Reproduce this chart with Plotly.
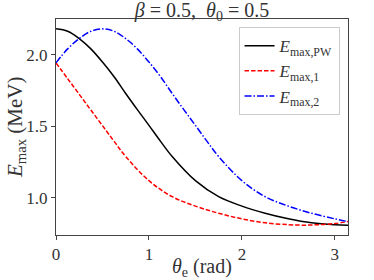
import math
import plotly.graph_objects as go

# ---- data ----
theta_pw = [0.0, 0.125, 0.25, 0.375, 0.5, 0.625, 0.75, 0.875, 1.0, 1.125, 1.25,
            1.5, 1.75, 2.0, 2.25, 2.5, 2.75, 3.0, math.pi]
e_pw = [2.180, 2.163, 2.112, 2.040, 1.948, 1.845, 1.728, 1.615, 1.505, 1.393, 1.287,
        1.118, 1.006, 0.940, 0.890, 0.851, 0.823, 0.810, 0.807]

theta_1 = [0.0, 0.125, 0.25, 0.375, 0.5, 0.625, 0.75, 1.0, 1.25, 1.5, 1.75,
           2.0, 2.25, 2.5, 2.64, 2.75, 3.0, math.pi]
e_1 = [1.942, 1.832, 1.722, 1.612, 1.503, 1.393, 1.287, 1.118, 1.006, 0.940, 0.890,
       0.851, 0.823, 0.810, 0.807, 0.808, 0.818, 0.832]

theta_2 = [0.0, 0.125, 0.25, 0.375, 0.5, 0.625, 0.75, 0.875, 1.0, 1.125, 1.25,
           1.375, 1.5, 1.625, 1.75, 2.0, 2.25, 2.5, 2.75, 3.0, math.pi]
e_2 = [1.942, 2.040, 2.112, 2.163, 2.180, 2.163, 2.112, 2.040, 1.948, 1.845, 1.728,
       1.615, 1.505, 1.393, 1.287, 1.118, 1.006, 0.940, 0.890, 0.851, 0.832]

x_ticks = [0, 1, 2, 3]
y_ticks = [1.0, 1.5, 2.0]
y_tick_text = ["1.0", "1.5", "2.0"]

names = ["<i>E</i><sub>max,PW</sub>", "<i>E</i><sub>max,1</sub>", "<i>E</i><sub>max,2</sub>"]
title_text = "<i>β</i> = 0.5,  <i>θ</i><sub>0</sub> = 0.5"
x_title = "<i>θ</i><sub>e</sub> (rad)"
y_title = "<i>E</i><sub>max</sub> (MeV)"

FONT = "Liberation Serif, DejaVu Serif, serif"
W, H = 374, 280
ML, MR, MT, MB = 56, 26, 19, 45
PW_, PH_ = W - ML - MR, H - MT - MB

fig = go.Figure()
fig.add_trace(go.Scatter(x=theta_pw, y=e_pw, mode="lines", name=names[0],
                         line=dict(color="black", width=1.5, shape="spline", smoothing=1.0)))
fig.add_trace(go.Scatter(x=theta_1, y=e_1, mode="lines", name=names[1],
                         line=dict(color="red", width=1.5, dash="4.5px,2px", shape="spline", smoothing=1.0)))
fig.add_trace(go.Scatter(x=theta_2, y=e_2, mode="lines", name=names[2],
                         line=dict(color="blue", width=1.5, dash="7px,2px,1.5px,2px", shape="spline", smoothing=1.0)))

fig.update_layout(
    width=W, height=H,
    margin=dict(l=ML, r=MR, t=MT, b=MB, autoexpand=False),
    paper_bgcolor="white", plot_bgcolor="white",
    font=dict(family=FONT, size=17, color="#333"),
    title=dict(text=title_text,
               x=0.5, xref="paper", xanchor="center",
               y=1 - 10 / H, yref="container", yanchor="middle",
               font=dict(family=FONT, size=20, color="#333")),
    showlegend=True,
    legend=dict(x=0.971, y=0.962, xanchor="right", yanchor="top",
                bgcolor="rgba(255,255,255,0.8)", bordercolor="#cccccc", borderwidth=1,
                font=dict(family=FONT, size=17, color="#333"),
                tracegroupgap=0),
    annotations=[
        dict(text=x_title, xref="paper", yref="paper", x=0.5, y=(235 - 267) / PH_,
             xanchor="center", yanchor="middle", showarrow=False,
             font=dict(family=FONT, size=20, color="#333")),
        dict(text=y_title, xref="paper", yref="paper", x=(16 - ML) / PW_, y=0.5,
             xanchor="center", yanchor="middle", showarrow=False, textangle=-90,
             font=dict(family=FONT, size=21, color="#333")),
    ],
)
fig.update_xaxes(range=[0, math.pi], tickvals=x_ticks, ticks="outside", ticklen=4,
                 tickcolor="#444", showline=True, linecolor="#444", linewidth=1, mirror=True,
                 showgrid=False, zeroline=False, automargin=False,
                 tickfont=dict(family=FONT, size=17, color="#333"))
fig.update_yaxes(range=[0.738, 2.249], tickvals=y_ticks, ticktext=y_tick_text,
                 ticks="outside", ticklen=4,
                 tickcolor="#444", showline=True, linecolor="#444", linewidth=1, mirror=True,
                 showgrid=False, zeroline=False, automargin=False,
                 tickfont=dict(family=FONT, size=17, color="#333"))

fig.write_html("out.html", config={"displayModeBar": False},
               post_script="document.body.style.margin='0px';document.body.style.overflow='hidden';")
